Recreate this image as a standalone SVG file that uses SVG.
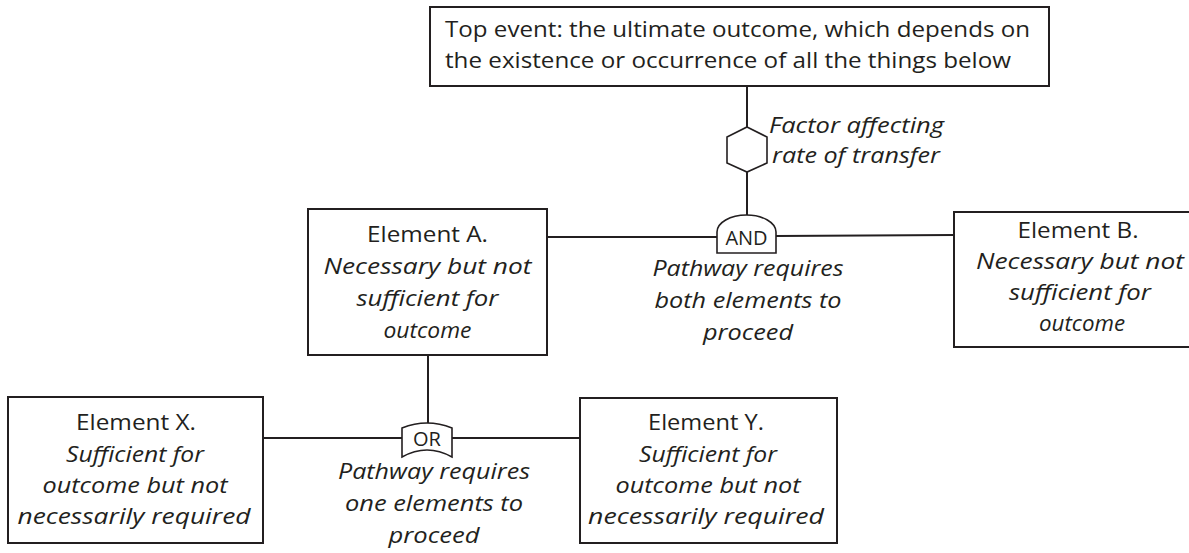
<svg xmlns="http://www.w3.org/2000/svg" width="1189" height="553" viewBox="0 0 1189 553">
<style>
.box{fill:#fff;stroke:#231f20;stroke-width:2}
.ln{fill:none;stroke:#231f20;stroke-width:2}
.gate{fill:#fff;stroke:#231f20;stroke-width:1.6}
.t{font-family:"Open Sans","Noto Sans","Liberation Sans",sans-serif;font-size:21px;fill:#231f20}
.big{font-size:22px}
.i{font-style:italic}
.m{text-anchor:middle}
</style>
<rect width="1189" height="553" fill="#fff"/>
<g id="connectors">
<line class="ln" x1="747" y1="86" x2="747" y2="127"/>
<line class="ln" x1="747" y1="172" x2="747" y2="215"/>
<line class="ln" x1="547" y1="237" x2="717" y2="237"/>
<line class="ln" x1="776" y1="236" x2="954" y2="235"/>
<line class="ln" x1="428" y1="355" x2="428" y2="423"/>
<line class="ln" x1="263" y1="438" x2="402" y2="438"/>
<line class="ln" x1="452" y1="438" x2="580" y2="438"/>
</g>
<g id="top">
<rect class="box" x="430" y="7" width="619" height="79"/>
<text class="t big" x="445" y="37" textLength="585" lengthAdjust="spacingAndGlyphs">Top event: the ultimate outcome, which depends on</text>
<text class="t big" x="445" y="68" textLength="566" lengthAdjust="spacingAndGlyphs">the existence or occurrence of all the things below</text>
</g>
<g id="factor">
<polygon class="gate" points="747,127 767,137 767,163 747,172 727,163 727,137"/>
<text class="t i" x="769" y="133" textLength="175" lengthAdjust="spacingAndGlyphs">Factor affecting</text>
<text class="t i" x="772" y="163" textLength="168" lengthAdjust="spacingAndGlyphs">rate of transfer</text>
</g>
<g id="and-gate">
<path class="gate" d="M717,253 V232 A29.5,17 0 0 1 776,232 V253 Z"/>
<text class="t m" x="746.5" y="245" style="font-size:20px">AND</text>
<text class="t i m" x="748" y="276" textLength="191" lengthAdjust="spacingAndGlyphs">Pathway requires</text>
<text class="t i m" x="748" y="308" textLength="187" lengthAdjust="spacingAndGlyphs">both elements to</text>
<text class="t i m" x="748" y="340" textLength="90" lengthAdjust="spacingAndGlyphs">proceed</text>
</g>
<g id="element-a">
<rect class="box" x="308" y="209" width="239" height="146"/>
<text class="t m" x="427.5" y="242" textLength="121" lengthAdjust="spacingAndGlyphs">Element A.</text>
<text class="t i m" x="427.5" y="274" textLength="208" lengthAdjust="spacingAndGlyphs">Necessary but not</text>
<text class="t i m" x="427.5" y="306" textLength="142" lengthAdjust="spacingAndGlyphs">sufficient for</text>
<text class="t i m" x="427.5" y="338" textLength="88" lengthAdjust="spacingAndGlyphs">outcome</text>
</g>
<g id="element-b">
<rect class="box" x="954" y="212" width="250" height="135"/>
<text class="t m" x="1078" y="238" textLength="121" lengthAdjust="spacingAndGlyphs">Element B.</text>
<text class="t i m" x="1080" y="269" textLength="208" lengthAdjust="spacingAndGlyphs">Necessary but not</text>
<text class="t i m" x="1080" y="300" textLength="142" lengthAdjust="spacingAndGlyphs">sufficient for</text>
<text class="t i m" x="1082" y="331" textLength="86" lengthAdjust="spacingAndGlyphs">outcome</text>
</g>
<g id="or-gate">
<path class="gate" d="M402,428 Q427,418 452,428 V457 Q427,443 402,457 Z"/>
<text class="t m" x="427" y="446" style="font-size:20px">OR</text>
<text class="t i m" x="434" y="479" textLength="192" lengthAdjust="spacingAndGlyphs">Pathway requires</text>
<text class="t i m" x="434" y="511" textLength="178" lengthAdjust="spacingAndGlyphs">one elements to</text>
<text class="t i m" x="434" y="543" textLength="91" lengthAdjust="spacingAndGlyphs">proceed</text>
</g>
<g id="element-x">
<rect class="box" x="8" y="397" width="255" height="146"/>
<text class="t m" x="136" y="430" textLength="120" lengthAdjust="spacingAndGlyphs">Element X.</text>
<text class="t i m" x="135" y="462" textLength="138" lengthAdjust="spacingAndGlyphs">Sufficient for</text>
<text class="t i m" x="135" y="493" textLength="185" lengthAdjust="spacingAndGlyphs">outcome but not</text>
<text class="t i m" x="134" y="524" textLength="233" lengthAdjust="spacingAndGlyphs">necessarily required</text>
</g>
<g id="element-y">
<rect class="box" x="580" y="398" width="257" height="145"/>
<text class="t m" x="706" y="430" textLength="116" lengthAdjust="spacingAndGlyphs">Element Y.</text>
<text class="t i m" x="708" y="462" textLength="138" lengthAdjust="spacingAndGlyphs">Sufficient for</text>
<text class="t i m" x="708" y="493" textLength="185" lengthAdjust="spacingAndGlyphs">outcome but not</text>
<text class="t i m" x="706" y="524" textLength="236" lengthAdjust="spacingAndGlyphs">necessarily required</text>
</g>
</svg>
